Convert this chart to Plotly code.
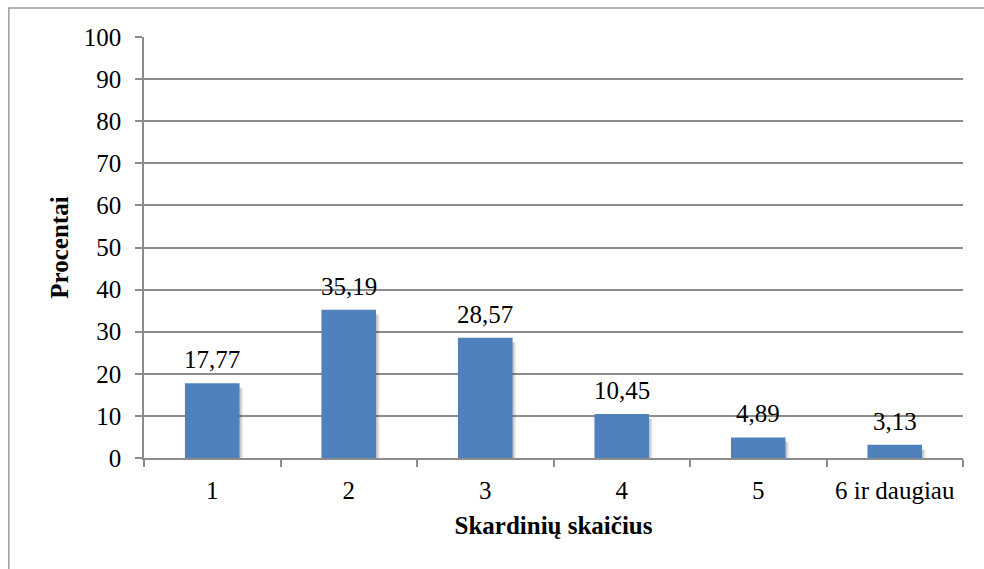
import plotly.graph_objects as go

# Skardinių skaičius per apklaustąjį ir jų dalis procentais
categories = ["1", "2", "3", "4", "5", "6 ir daugiau"]
percent = [17.77, 35.19, 28.57, 10.45, 4.89, 3.13]
y_ticks = list(range(0, 101, 10))

FONT = "Liberation Serif"
BAR = "#4F81BD"
GRID = "#8C8C8C"

fig = go.Figure()

# soft drop shadow behind each bar
for dx, alpha in [(0.012, 0.10), (0.020, 0.08), (0.028, 0.05)]:
    fig.add_trace(go.Bar(
        x=categories, y=[v - 0.5 for v in percent], base=-0.6,
        width=0.4, offset=-0.2 + dx,
        marker=dict(color=f"rgba(0,0,0,{alpha})", line=dict(width=0)),
        hoverinfo="skip", showlegend=False,
    ))

fig.add_trace(go.Bar(
    x=categories, y=percent, width=0.4, offset=-0.2,
    marker=dict(color=BAR, line=dict(width=0)),
    showlegend=False,
))

# value labels above the bars, with a decimal comma
# (category axis positions are addressed by index)
labels = [f"{v:.2f}".replace(".", ",") for v in percent]
for i, (v, lab) in enumerate(zip(percent, labels)):
    fig.add_annotation(
        x=i, y=v, text=lab, showarrow=False,
        xanchor="center", yanchor="bottom", yshift=8,
        font=dict(family=FONT, size=25, color="black"),
    )

fig.update_layout(
    barmode="overlay",
    width=984, height=569,
    margin=dict(l=144, r=21, t=37, b=111),
    paper_bgcolor="white", plot_bgcolor="white",
    font=dict(family=FONT, size=25, color="black"),
    xaxis=dict(
        type="category", tickson="boundaries",
        ticks="outside", ticklen=7, tickcolor=GRID, tickwidth=1.5,
        showline=True, linecolor=GRID, linewidth=1.5,
        showgrid=False,
        ticklabelstandoff=9,
        tickfont=dict(family=FONT, size=25),
        title=dict(text="<b>Skardinių skaičius</b>", font=dict(family=FONT, size=25), standoff=14),
    ),
    yaxis=dict(
        range=[0, 100], tickvals=y_ticks,
        ticks="outside", ticklen=7, tickcolor=GRID, tickwidth=1.5,
        showline=True, linecolor=GRID, linewidth=1.5,
        showgrid=True, gridcolor=GRID, gridwidth=1.5,
        zeroline=False,
        ticklabelstandoff=9,
        tickfont=dict(family=FONT, size=25),
        title=dict(text="<b>Procentai</b>", font=dict(family=FONT, size=25), standoff=8),
    ),
    shapes=[dict(
        type="rect", xref="paper", yref="paper",
        x0=-0.165, x1=1.06, y0=-0.3, y1=1.069,
        line=dict(color="#9A9A9A", width=1.5), layer="below",
    )],
)

fig.write_html("out.html")
